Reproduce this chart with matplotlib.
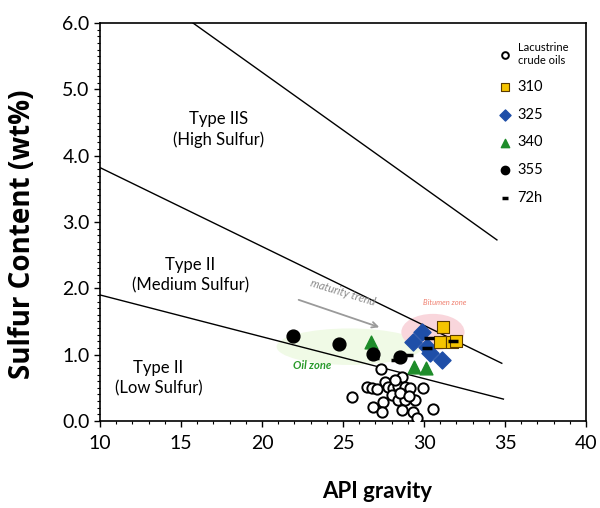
import matplotlib.pyplot as plt
from matplotlib.patches import Ellipse

plt.rcParams["font.family"] = ["Lato", "DejaVu Sans"]

# classification lines (API gravity, sulfur wt%)
line_high_x = [15.74, 34.5]
line_high_y = [6.0, 2.73]
line_mid_x = [10.0, 34.8]
line_mid_y = [3.82, 0.87]
line_low_x = [10.0, 34.9]
line_low_y = [1.90, 0.33]

# lacustrine crude oils
lac_api = [27.35, 28.64, 27.59, 26.48, 26.79, 27.10, 27.78, 28.09, 28.40, 28.83,
           29.14, 29.94, 25.56, 28.02, 27.47, 28.40, 28.83, 29.44, 26.85, 27.41,
           28.64, 29.32, 30.56, 29.57, 28.2, 28.5, 29.1]
lac_s = [0.78, 0.66, 0.59, 0.51, 0.50, 0.48, 0.51, 0.50, 0.53, 0.51,
         0.50, 0.50, 0.36, 0.39, 0.29, 0.32, 0.32, 0.32, 0.21, 0.14,
         0.17, 0.14, 0.18, 0.05, 0.62, 0.42, 0.38]

# pyrolysis temperatures
api_310 = [31.2, 31.0, 31.7, 32.0]
s_310 = [1.42, 1.19, 1.19, 1.20]
api_325 = [29.9, 29.3, 30.2, 30.4, 31.1]
s_325 = [1.34, 1.19, 1.12, 1.03, 0.92]
api_340 = [26.7, 29.4, 30.1]
s_340 = [1.19, 0.82, 0.80]
api_355 = [21.9, 24.75, 26.85, 28.5]
s_355 = [1.28, 1.16, 1.01, 0.97]
api_72h = [26.9, 28.3, 29.0, 30.3, 30.2, 31.8]
s_72h = [0.95, 0.92, 1.00, 1.25, 1.10, 1.20]

fig = plt.figure(figsize=(6.0, 5.08), dpi=100)
ax = fig.add_axes([0.1667, 0.1713, 0.81, 0.7834])

# zones
ax.add_patch(Ellipse((25.4, 1.12), 9.0, 0.55, facecolor="#f0fae6", edgecolor="none", zorder=1))
ax.add_patch(Ellipse((30.55, 1.34), 3.9, 0.55, facecolor="#f9d6dc", edgecolor="none", zorder=1))

for xs, ys in [(line_high_x, line_high_y), (line_mid_x, line_mid_y), (line_low_x, line_low_y)]:
    ax.plot(xs, ys, color="black", linewidth=1.0, zorder=2)

h_lac = ax.scatter(lac_api, lac_s, s=55, facecolors="white", edgecolors="black",
                   linewidths=1.4, zorder=3, label="Lacustrine\ncrude oils")
h_310 = ax.scatter(api_310, s_310, s=85, marker="s", color="#f5c400", edgecolors="#5a3a00",
                   linewidths=0.8, zorder=6, label="310")
h_325 = ax.scatter(api_325, s_325, s=75, marker="D", color="#1f4fa8", edgecolors="#1f4fa8",
                   zorder=5, label="325")
h_340 = ax.scatter(api_340, s_340, s=85, marker="^", color="#1e8c2a", edgecolors="#1e8c2a",
                   zorder=4, label="340")
h_355 = ax.scatter(api_355, s_355, s=85, marker="o", color="black", zorder=4, label="355")
h_72h = ax.scatter(api_72h, s_72h, s=60, marker="_", color="black", linewidths=2.5,
                   zorder=7, label="72h")

# labels of fields
ax.text(17.3, 4.39, "Type IIS\n(High Sulfur)", ha="center", va="center", fontsize=12,
        linespacing=1.35)
ax.text(15.56, 2.2, "Type II\n(Medium Sulfur)", ha="center", va="center", fontsize=12,
        linespacing=1.35)
ax.text(13.6, 0.65, "Type II\n(Low Sulfur)", ha="center", va="center", fontsize=12,
        linespacing=1.35)

ax.text(25.0, 1.93, "maturity trend", ha="center", va="center", fontsize=8, style="italic",
        color="#8a8a8a", rotation=-17)
ax.annotate("", xy=(27.4, 1.40), xytext=(22.1, 1.84),
            arrowprops=dict(arrowstyle="->", color="#9a9a9a", lw=1.3))
ax.text(23.1, 0.84, "Oil zone", ha="center", va="center", fontsize=8, style="italic",
        fontweight="bold", color="#2a9a2a")
ax.text(31.3, 1.78, "Bitumen zone", ha="center", va="center", fontsize=5.5, style="italic",
        color="#f08070")

ax.set_xlim(10, 40)
ax.set_ylim(0, 6)
ax.set_xticks(range(10, 41, 5))
ax.set_xticks(range(10, 41), minor=True)
ax.set_yticks([0, 1, 2, 3, 4, 5, 6])
ax.set_yticklabels(["0.0", "1.0", "2.0", "3.0", "4.0", "5.0", "6.0"])
ax.set_yticks([i / 10 for i in range(61)], minor=True)
ax.tick_params(axis="both", which="major", labelsize=14, length=4, width=1.0, direction="out")
ax.tick_params(axis="x", which="major", pad=6)
ax.tick_params(axis="both", which="minor", length=2.5, width=0.8, direction="out")
for sp in ax.spines.values():
    sp.set_linewidth(1.2)

ax.set_xlabel("API gravity", fontsize=16, fontweight="bold")
ax.xaxis.set_label_coords(0.57, -0.15)
ax.set_ylabel("Sulfur Content (wt%)", fontsize=20, fontweight="bold",
              family=["Open Sans", "DejaVu Sans"])
ax.yaxis.set_label_coords(-0.13, 0.47)

leg = ax.legend(handles=[h_lac, h_310, h_325, h_340, h_355, h_72h], loc="upper right",
                bbox_to_anchor=(0.99, 0.985), frameon=False, fontsize=10.5, markerscale=0.65,
                labelspacing=0.95, handletextpad=0.25, handlelength=1.2)
leg.get_texts()[0].set_fontsize(8)

fig.savefig("out.png", dpi=100)
